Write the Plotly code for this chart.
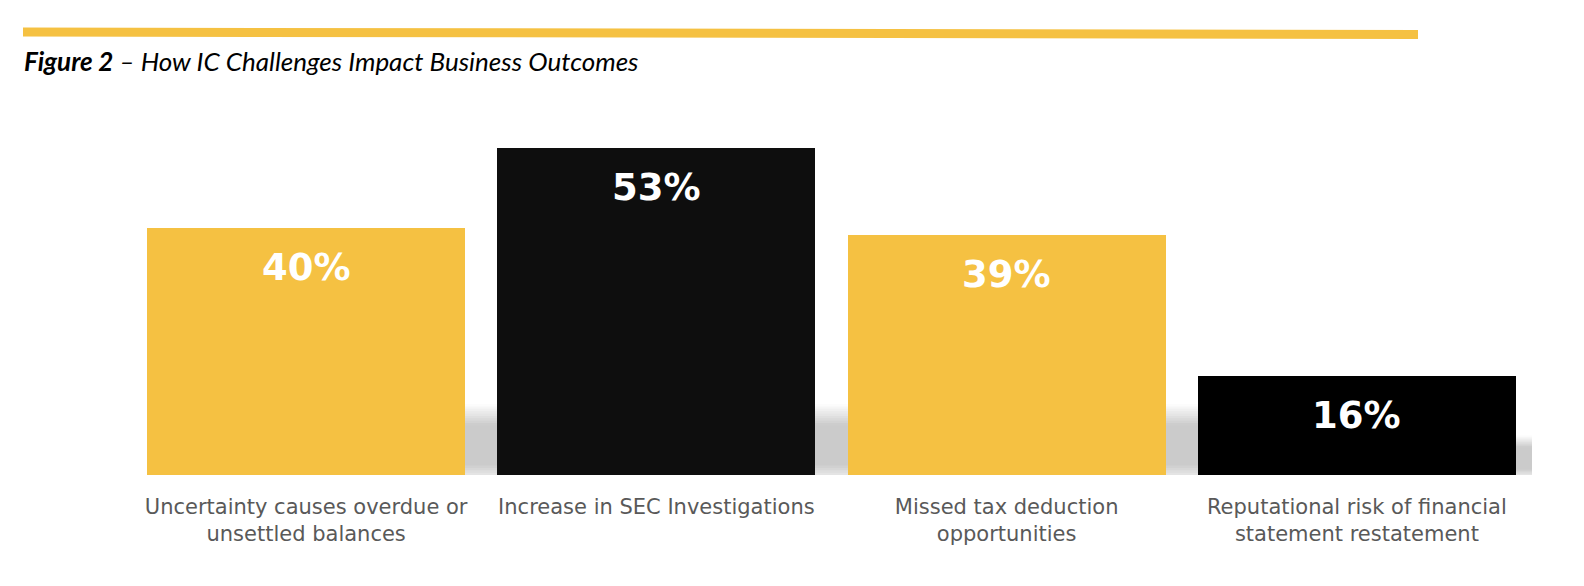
import plotly.graph_objects as go

# Data
categories = ["Uncertainty causes overdue or<br>unsettled balances",
              "Increase in SEC Investigations",
              "Missed tax deduction<br>opportunities",
              "Reputational risk of financial<br>statement restatement"]
values = [40, 53, 39, 16]
value_labels = ["40%", "53%", "39%", "16%"]
bar_colors = ["#F5C142", "#0E0E0E", "#F5C142", "#000000"]

title_html = "<b><i>Figure 2</i></b><i> – How IC Challenges Impact Business Outcomes</i>"

YELLOW = "#F5C142"
W, H = 1584, 586
L, R, T, B = 123, 60, 97, 119

fig = go.Figure()
fig.add_trace(go.Bar(
    x=list(range(len(values))), y=values,
    marker=dict(color=bar_colors, line=dict(width=0)),
    width=0.908, hoverinfo="skip", showlegend=False,
))

# soft floor shadow right of each bar; nested rects fake a vertical gradient
shapes = []
n_bands = 30
for i, v in enumerate(values):
    h = min(v * 0.4, 11.5)
    x1 = i + 0.55 if i < len(values) - 1 else i + 0.5
    for k in reversed(range(n_bands)):
        tm = (k + 0.5) / n_bands
        if tm > 0.7:
            a = (1 - tm) / 0.3
        elif tm < 0.15:
            a = 0.45 + 0.55 * tm / 0.15
        else:
            a = 1.0
        g = int(255 - a * (255 - 203))
        shapes.append(dict(type="rect", xref="x", yref="y", layer="below",
                           x0=i, x1=x1, y0=0, y1=h * (k + 1) / n_bands,
                           fillcolor=f"rgb({g},{g},{g})", line=dict(width=0)))

# yellow rule above the title
pw, ph = W - L - R, H - T - B
def px(xp): return (xp - L) / pw
def py(yp): return (H - B - yp) / ph
shapes.append(dict(type="line", xref="paper", yref="paper",
                   x0=px(15), x1=px(1410), y0=py(24), y1=py(26.5),
                   line=dict(color=YELLOW, width=9)))

annotations = [dict(text=title_html, xref="paper", yref="paper",
                    x=px(14), y=py(52.5), xanchor="left", yanchor="middle",
                    showarrow=False,
                    font=dict(family="Lato", size=26, color="black"))]
for i, (v, lab) in enumerate(zip(values, value_labels)):
    annotations.append(dict(text=lab, x=i, y=v, xref="x", yref="y",
                            yanchor="top", yshift=-16, showarrow=False,
                            font=dict(family="DejaVu Sans", size=37,
                                      color="white", weight="bold")))

fig.update_layout(
    width=W, height=H,
    margin=dict(l=L, r=R, t=T, b=B),
    paper_bgcolor="white", plot_bgcolor="white",
    shapes=shapes, annotations=annotations,
    bargap=0,
    xaxis=dict(range=[-0.5, 3.5], tickmode="array",
               tickvals=list(range(len(categories))), ticktext=categories,
               showgrid=False, zeroline=False, showline=False, ticks="",
               tickfont=dict(family="DejaVu Sans", size=21, color="#595959"),
               ticklabelstandoff=17),
    yaxis=dict(range=[0, 60], visible=False),
)

fig.write_html("out.html")
